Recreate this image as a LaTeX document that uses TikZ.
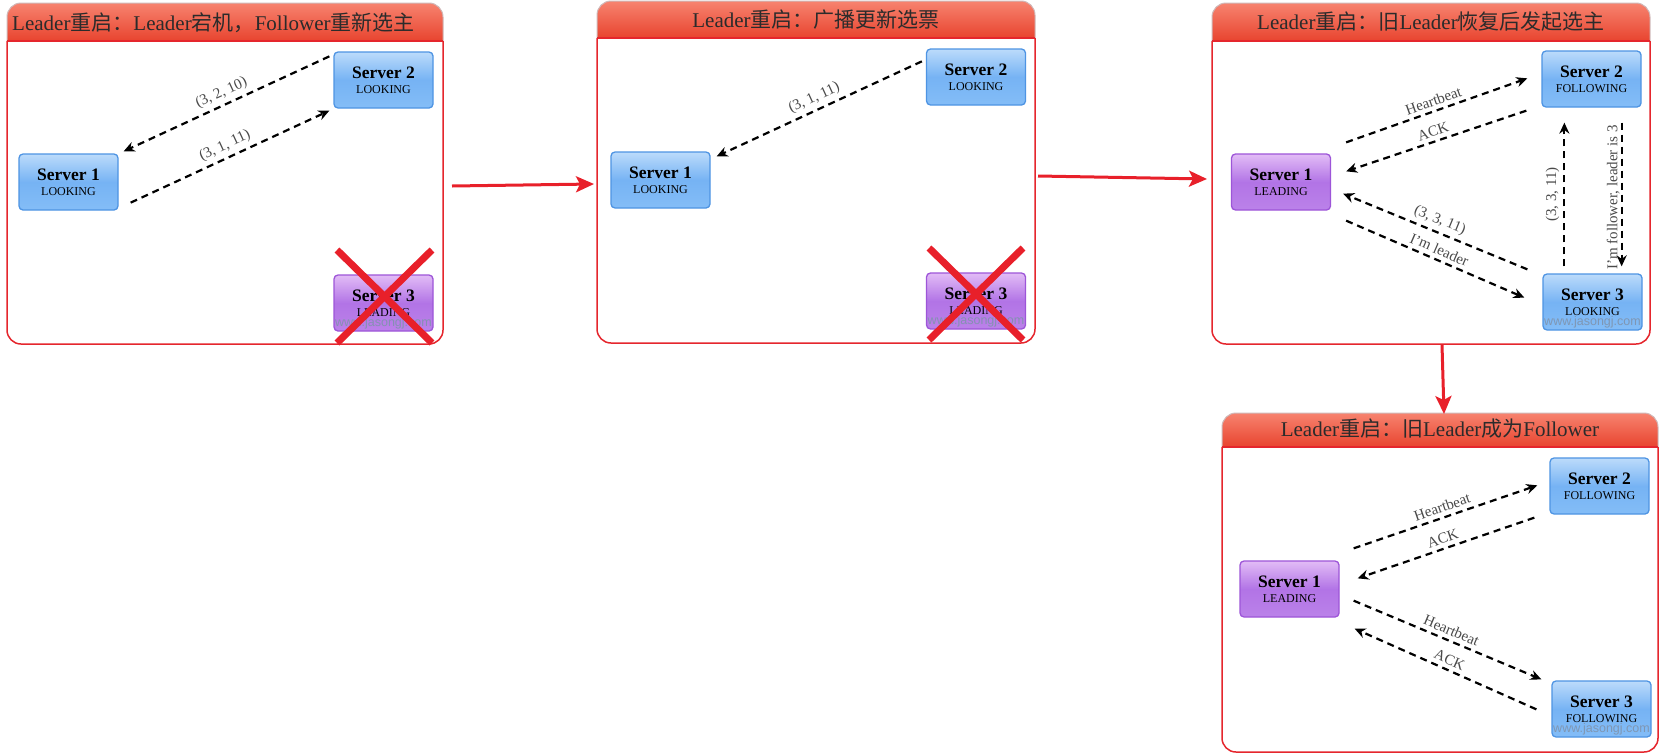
\documentclass[tikz,border=0pt]{standalone}
\usepackage{fontspec}
\setmainfont{Liberation Serif}
\newfontfamily\cjk{Noto Sans CJK SC}
\newfontfamily\wmfont{Liberation Sans}
\usetikzlibrary{arrows.meta,calc}
\definecolor{hdrtop}{HTML}{F7836F}
\definecolor{hdrbot}{HTML}{E8442F}
\definecolor{hdredge}{HTML}{D0B8B8}
\definecolor{bodyred}{HTML}{E5262D}
\definecolor{hdrtext}{HTML}{2B2B2B}
\definecolor{flowred}{HTML}{E8202A}
\definecolor{lblgray}{HTML}{4A4A4A}
\definecolor{wmgray}{HTML}{7F93AC}
\definecolor{bluetop}{HTML}{BCDBFB}
\definecolor{bluemid}{HTML}{76B3F4}
\definecolor{bluebot}{HTML}{84BDF7}
\definecolor{blueedge}{HTML}{4E94E3}
\definecolor{purtop}{HTML}{E2BCF6}
\definecolor{purmid}{HTML}{B274E6}
\definecolor{purbot}{HTML}{BB82E9}
\definecolor{puredge}{HTML}{9D55D8}
\newcommand\drawpanel[5]{%
  \begin{scope}
    \clip[rounded corners=14pt] (#1,#2) rectangle (#3,#4);
    \fill[white] (#1,#2) rectangle (#3,#4);
    \shade[top color=hdrtop,bottom color=hdrbot] (#1,#2) rectangle (#3,#5);
  \end{scope}
  \draw[hdredge, line width=1pt, rounded corners=14pt] (#1,#5) -- (#1,#2) -- (#3,#2) -- (#3,#5);
  \draw[bodyred, line width=1.5pt, rounded corners=14pt] (#1,#5) -- (#1,#4) -- (#3,#4) -- (#3,#5);
  \draw[bodyred, line width=2pt] (#1,#5) -- (#3,#5);
}
\newcommand\srvtext[2]{{\fontsize{17.5}{15}\selectfont\bfseries #1}\\#2}
\tikzset{
  srv/.style={rectangle, rounded corners=4pt, minimum width=99pt, minimum height=56pt,
    inner sep=0pt, align=center, line width=1.3pt, font=\fontsize{12}{15}\selectfont, text=black},
  bluesrv/.style={srv, draw=blueedge, top color=bluetop, bottom color=bluebot, middle color=bluemid},
  pursrv/.style={srv, draw=puredge, top color=purtop, bottom color=purbot, middle color=purmid},
  msg/.style={draw=black, line width=2.2pt, dash pattern=on 7pt off 5pt, -{Stealth[length=11pt,width=10pt]}},
  lbl/.style={font=\fontsize{15}{15}\selectfont, text=lblgray, sloped, above=3pt, inner sep=1pt},
  vlbl/.style={font=\fontsize{15}{15}\selectfont, text=lblgray, rotate=90, anchor=south, inner sep=1pt, xshift=-3pt},
  flow/.style={draw=flowred, line width=3pt, -{Stealth[length=18pt,width=16pt,inset=4pt]}},
  cross/.style={draw=flowred, line width=7pt},
  hdr/.style={font=\fontsize{21}{21}\selectfont, text=hdrtext, inner sep=0pt},
  wm/.style={font=\wmfont\fontsize{12.5}{12.5}\selectfont, text=wmgray, inner sep=0pt, opacity=0.9}
}
\begin{document}
\begin{tikzpicture}[x=1pt,y=-1pt]
\useasboundingbox (0,0) rectangle (1667,755);
% panels
\drawpanel{7}{3}{443}{344}{41}
\drawpanel{597}{1}{1035}{343}{38}
\drawpanel{1212}{3}{1650}{344}{41}
\drawpanel{1222}{413}{1658}{752}{447}
% headers
\node[hdr, anchor=base west] (h1) at (12,30) {Leader{\cjk 重启：}Leader{\cjk 宕机，}Follower{\cjk 重新选主}};
\node[hdr, anchor=base] (h2) at (816,27) {Leader{\cjk 重启：广播更新选票}};
\node[hdr, anchor=base] (h3) at (1431,29) {Leader{\cjk 重启：旧}Leader{\cjk 恢复后发起选主}};
\node[hdr, anchor=base] (h4) at (1440,436) {Leader{\cjk 重启：旧}Leader{\cjk 成为}Follower};
% panel 1
\node[bluesrv] (a1) at (68.5,182) {\srvtext{Server 1}{LOOKING}};
\node[bluesrv] (a2) at (383.5,80) {\srvtext{Server 2}{LOOKING}};
\node[pursrv] (a3) at (383.5,303) {\srvtext{Server 3}{LEADING}};
\node[wm] (a3w) at ([yshift=8pt]a3.south) {www.jasongj.com};
\draw[msg] ([shift={(-4,5)}]a2.north west) -- node[lbl]{(3, 2, 10)} ([shift={(5,-2)}]a1.north east);
\draw[msg] ([shift={(12,-8)}]a1.south east) -- node[lbl]{(3, 1, 11)} ([shift={(-4,2)}]a2.south west);
\draw[cross] (337,250) -- (432,343);
\draw[cross] (432,250) -- (337,343);
% panel 2
\node[bluesrv] (b1) at (660.5,180) {\srvtext{Server 1}{LOOKING}};
\node[bluesrv] (b2) at (976,77) {\srvtext{Server 2}{LOOKING}};
\node[pursrv] (b3) at (976,301) {\srvtext{Server 3}{LEADING}};
\node[wm] (b3w) at ([yshift=8pt]b3.south) {www.jasongj.com};
\draw[msg] ([shift={(-4,13)}]b2.north west) -- node[lbl]{(3, 1, 11)} ([shift={(6,5)}]b1.north east);
\draw[cross] (929,248) -- (1023,340);
\draw[cross] (1023,248) -- (929,340);
% panel 3
\node[pursrv] (c1) at (1281,182) {\srvtext{Server 1}{LEADING}};
\node[bluesrv] (c2) at (1591.5,79) {\srvtext{Server 2}{FOLLOWING}};
\node[bluesrv] (c3) at (1592.5,302) {\srvtext{Server 3}{LOOKING}};
\node[wm] (c3w) at ([yshift=8pt]c3.south) {www.jasongj.com};
\draw[msg] ([shift={(15,-11)}]c1.north east) -- node[lbl]{Heartbeat} ([shift={(-14,28)}]c2.north west);
\draw[msg] ([shift={(-15,3)}]c2.south west) -- node[lbl]{ACK} ([shift={(15,18)}]c1.north east);
\draw[msg] ([shift={(-15,-4)}]c3.north west) -- node[lbl]{(3, 3, 11)} ([shift={(12,-17)}]c1.south east);
\draw[msg] ([shift={(15,10)}]c1.south east) -- node[lbl]{I'm leader} ([shift={(-18,-33)}]c3.south west);
\draw[msg] ([shift={(22,-7)}]c3.north west) -- node[lbl]{(3, 3, 11)} ([shift={(23,15)}]c2.south west);
\draw[msg] ([shift={(-20,15)}]c2.south east) -- node[vlbl]{I'm follower, leader is 3} ([shift={(-21,-7)}]c3.north east);
% panel 4
\node[pursrv] (d1) at (1289.5,589) {\srvtext{Server 1}{LEADING}};
\node[bluesrv] (d2) at (1599.5,486) {\srvtext{Server 2}{FOLLOWING}};
\node[bluesrv] (d3) at (1601.5,709) {\srvtext{Server 3}{FOLLOWING}};
\node[wm] (d3w) at ([yshift=8pt]d3.south) {www.jasongj.com};
\draw[msg] ([shift={(14,-12)}]d1.north east) -- node[lbl]{Heartbeat} ([shift={(-12,28)}]d2.north west);
\draw[msg] ([shift={(-15,3)}]d2.south west) -- node[lbl]{ACK} ([shift={(18,18)}]d1.north east);
\draw[msg] ([shift={(14,-17)}]d1.south east) -- node[lbl]{Heartbeat} ([shift={(-10,-1)}]d3.north west);
\draw[msg] ([shift={(-15,29)}]d3.north west) -- node[lbl]{ACK} ([shift={(15,11)}]d1.south east);
% flow arrows between panels
\coordinate (f1s) at (452,186); \coordinate (f1e) at (594,184);
\coordinate (f2s) at (1038,176); \coordinate (f2e) at (1207,179);
\coordinate (f3s) at (1442,345); \coordinate (f3e) at (1444,414);
\draw[flow] (f1s) -- (f1e);
\draw[flow] (f2s) -- (f2e);
\draw[flow] (f3s) -- (f3e);
\end{tikzpicture}
\end{document}
